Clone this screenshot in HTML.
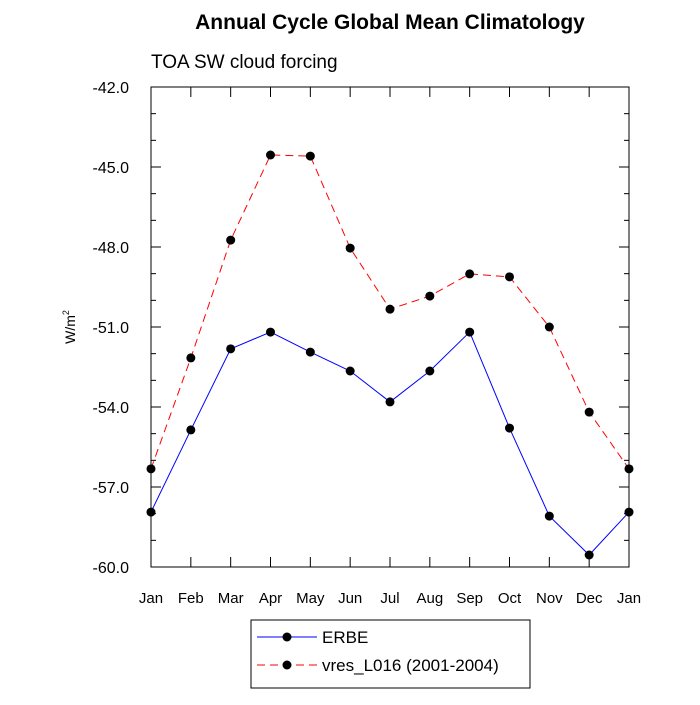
<!DOCTYPE html>
<html><head><meta charset="utf-8"><style>body{margin:0;background:#fff}svg{font-family:"Liberation Sans",sans-serif}</style></head>
<body>
<svg id="c" width="700" height="700">
<text x="390" y="29" text-anchor="middle" font-size="21" font-weight="bold">Annual Cycle Global Mean Climatology</text>
<text x="151" y="68" font-size="19">TOA SW cloud forcing</text>
<text transform="translate(75,327) rotate(-90)" text-anchor="middle" font-size="14">W/m<tspan dy="-6" font-size="9">2</tspan></text>
<g id="axes"></g><g id="series"></g>
<rect x="251" y="620" width="279" height="68" fill="none" stroke="#000"/>
<g><line x1="257" y1="637" x2="317" y2="637" stroke="#00f"/><circle cx="287" cy="637" r="4.5"/><text x="322" y="643" font-size="17">ERBE</text></g>
<g><line x1="257" y1="665" x2="317" y2="665" stroke="#f00" stroke-dasharray="8,5"/><circle cx="287" cy="665" r="4.5"/><text x="322" y="671" font-size="17">vres_L016 (2001-2004)</text></g>
</svg>
<script>
const months=["Jan","Feb","Mar","Apr","May","Jun","Jul","Aug","Sep","Oct","Nov","Dec","Jan"];
const erbe=[-57.94,-54.86,-51.82,-51.19,-51.94,-52.65,-53.81,-52.65,-51.19,-54.79,-58.09,-59.55,-57.94];
const vres=[-56.32,-52.16,-47.74,-44.55,-44.59,-48.04,-50.33,-49.84,-49.01,-49.12,-51.0,-54.19,-56.32];
const yTicks=[-42,-45,-48,-51,-54,-57,-60];
const L=151,R=629,T=87,B=567,ymax=-42,ymin=-60;
const sx=i=>L+i*(R-L)/(months.length-1);
const sy=v=>T+(ymax-v)/(ymax-ymin)*(B-T);
const NS="http://www.w3.org/2000/svg";
function mk(p,t,a){const e=document.createElementNS(NS,t);for(const k in a)e.setAttribute(k,a[k]);p.appendChild(e);return e;}
const ax=document.getElementById('axes'),se=document.getElementById('series');
const fr=mk(ax,'rect',{x:L,y:T,width:R-L,height:B-T,fill:'none',stroke:'#000','stroke-width':1});


for(let v=ymax;v>=ymin;v--){const maj=yTicks.includes(v),len=maj?10:5,y=sy(v);
mk(ax,'line',{x1:L,y1:y,x2:L+len,y2:y,stroke:'#000'});mk(ax,'line',{x1:R,y1:y,x2:R-len,y2:y,stroke:'#000'});}
yTicks.forEach(v=>{const t=mk(ax,'text',{x:L-22,y:sy(v)+6,'text-anchor':'end','font-size':16});t.textContent=v.toFixed(1);

});
months.forEach((m,i)=>{const x=sx(i);mk(ax,'line',{x1:x,y1:B,x2:x,y2:B-10,stroke:'#000'});mk(ax,'line',{x1:x,y1:T,x2:x,y2:T+10,stroke:'#000'});
const t=mk(ax,'text',{x:x,y:603,'text-anchor':'middle','font-size':15});t.textContent=m;

});
function draw(d,col,dash,name){const p=mk(se,'polyline',{points:d.map((v,i)=>sx(i)+','+sy(v)).join(' '),fill:'none',stroke:col,'stroke-dasharray':dash});


d.forEach((v,i)=>{const c=mk(se,'circle',{cx:sx(i),cy:sy(v),r:4.5});

});}
draw(erbe,'#00f','none','erbe');
draw(vres,'#f00','8,5','vres');
</script>
</body></html>
